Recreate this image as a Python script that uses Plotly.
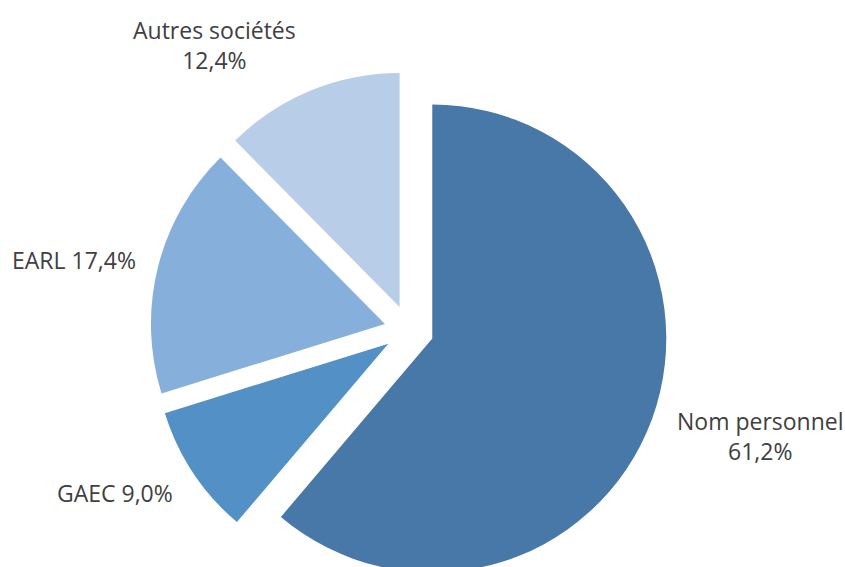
import plotly.graph_objects as go

# Répartition des exploitations selon la forme juridique
labels = ["Nom personnel", "GAEC", "EARL", "Autres sociétés"]
values = [61.2, 9.0, 17.4, 12.4]
colors = ["#4778A8", "#5290C6", "#87AFDC", "#B8CDE8"]

# Label text layout: two-line labels use a line break
label_breaks = [True, False, False, True]
# Label centres in pixels (x, y from top)
label_pos_px = [(760, 436), (115, 493), (74, 260), (214, 45)]

W, H = 845, 590
PULL = 0.106

# Pie box in pixels: centre and radius, converted to a domain
CX, CY, R = 409, 330, 234
half = R * (1 + PULL)
dom_x = [max(0, (CX - half) / W), min(1, (CX + half) / W)]
dom_y = [max(0, 1 - (CY + half) / H), min(1, 1 - (CY - half) / H)]


def fr_pct(v):
    return f"{v:.1f}".replace(".", ",") + "%"


fig = go.Figure(
    go.Pie(
        labels=labels,
        values=values,
        sort=False,
        direction="clockwise",
        rotation=0,
        pull=[PULL] * len(values),
        marker=dict(colors=colors, line=dict(width=0)),
        textinfo="none",
        hoverinfo="label+percent",
        showlegend=False,
        domain=dict(x=dom_x, y=dom_y),
    )
)

annotations = []
for lab, val, brk, (px, py) in zip(labels, values, label_breaks, label_pos_px):
    sep = "<br>" if brk else " "
    annotations.append(
        dict(
            text=f"{lab}{sep}{fr_pct(val)}",
            x=px / W,
            y=1 - py / H,
            xref="paper",
            yref="paper",
            xanchor="center",
            yanchor="middle",
            showarrow=False,
            align="center",
            font=dict(family="Open Sans", size=23, color="#404040"),
        )
    )

fig.update_layout(
    width=W,
    height=H,
    margin=dict(l=0, r=0, t=0, b=0),
    paper_bgcolor="white",
    plot_bgcolor="white",
    annotations=annotations,
)

fig.write_html("out.html")
